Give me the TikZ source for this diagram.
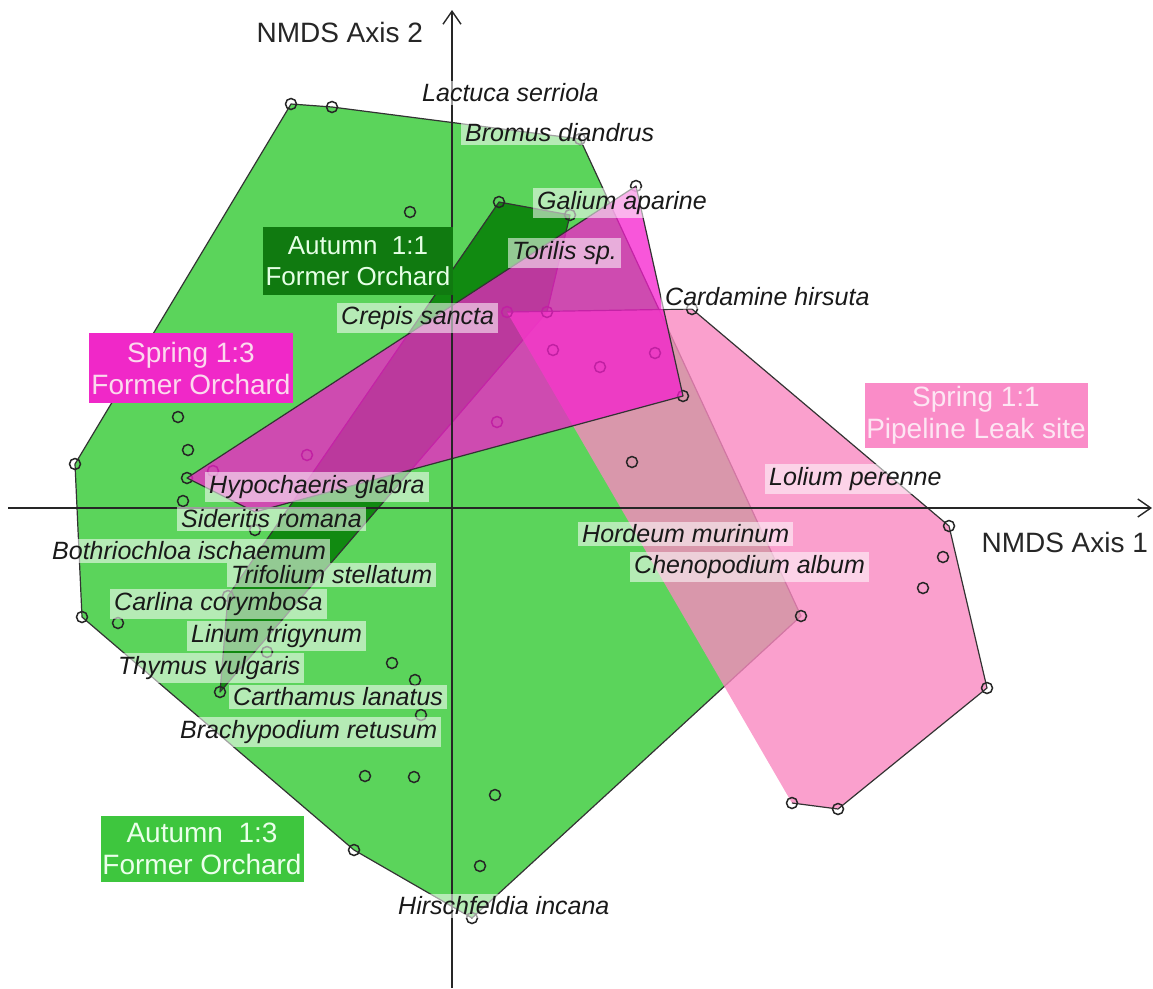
\documentclass[tikz,border=0pt]{standalone}
\usepackage{fontspec}
\setmainfont{Liberation Sans}
\usetikzlibrary{arrows.meta}
\definecolor{autumnthree}{RGB}{91,212,91}
\definecolor{autumnone}{RGB}{10,130,10}
\definecolor{springone}{RGB}{249,136,192}
\definecolor{springthree}{RGB}{245,30,205}
\definecolor{boxautone}{RGB}{16,122,16}
\definecolor{boxautthree}{RGB}{62,198,62}
\definecolor{boxsprone}{RGB}{250,140,200}
\definecolor{boxsprthree}{RGB}{240,40,200}

\begin{document}
\begin{tikzpicture}[x=1pt,y=-1pt,
  hull/.style={draw=black!80,line width=1.2pt,line join=round},
  pt/.style={circle,draw=black!85,line width=1.5pt,minimum size=11pt,inner sep=0pt},
  lab/.style={anchor=west,fill=white,fill opacity=0.55,text opacity=1,text=black!90,
    inner xsep=4pt,inner ysep=3pt,font=\fontsize{25}{28}\selectfont\itshape},
  grp/.style={fill=#1,inner sep=0pt,align=center,font=\fontsize{28}{32}\selectfont},
  axis/.style={line width=1.4pt,draw=black!85,-{Straight Barb[length=13pt,width=18pt]}}]
\useasboundingbox (0,0) rectangle (1153,988);

% hull corners
\foreach \n/\x/\y in {a1/291/104,a2/332/107,a3/580/139,a4/801/616,a5/472/918,
    a6/354/850,a7/82/617,a8/75/464,
    b1/499/202,b2/570/215,b3/547/312,b4/220/692,b5/228/596,
    c1/507/312,c2/692/309,c3/949/526,c4/987/688,c5/838/809,c6/792/803,
    d1/187/478,d2/636/186,d3/683/396,d4/255/512}
  \coordinate (\n) at (\x,\y);

% Autumn 1:3
\fill[autumnthree] (a1)--(a2)--(a3)--(a4)--(a5)--(a6)--(a7)--(a8)--cycle;
\draw[hull] (a1)--(a2)--(a3)--(a4)--(a5)--(a6)--(a7)--(a8)--cycle;
% Autumn 1:1
\filldraw[hull,fill=autumnone,fill opacity=0.9] (b1)--(b2)--(b3)--(b4)--(b5)--cycle;
% Spring 1:1
\fill[springone,fill opacity=0.8] (c1)--(c2)--(c3)--(c4)--(c5)--(c6)--cycle;
\draw[hull] (c1)--(c2)--(c3)--(c4)--(c5)--(c6);

% sample points
\foreach \n in {a1,a2,a3,a4,a5,a6,a7,a8,b1,b2,b3,b4,b5,c2,c3,c4,c5,c6,c1,d1,d2,d3}
  \node[pt] (o\n) at (\n) {};
\foreach \x/\y [count=\i] in {410/212,178/417,188/450,183/501,118/623,392/663,
    415/680,421/715,365/776,414/777,495/795,480/866,255/530,267/652,213/471,
    307/455,553/350,600/367,655/353,497/422,943/557,923/588,632/462}
  \node[pt] (q\i) at (\x,\y) {};

% Spring 1:3
\filldraw[hull,fill=springthree,fill opacity=0.75] (d1)--(d2)--(d3)--(d4)--cycle;

% axes
\coordinate (xs) at (8,508);
\coordinate (xe) at (1152,508);
\coordinate (ys) at (452,988);
\coordinate (ye) at (452,10);
\draw[axis] (xs) -- (xe);
\draw[axis] (ys) -- (ye);
\node[anchor=west,font=\fontsize{28}{32}\selectfont,text=black!85] (axtwo) at (253,32) {NMDS Axis 2};
\node[anchor=west,font=\fontsize{28}{32}\selectfont,text=black!85] (axone) at (978,542) {NMDS Axis 1};

% species
\node[lab] (lactuca) at (418,93) {Lactuca serriola};
\node[lab] (bromus) at (461,133) {Bromus diandrus};
\node[lab] (galium) at (533,203) {Galium aparine};
\node[lab] (torilis) at (508,253) {Torilis sp.};
\node[lab] (cardamine) at (661,297) {Cardamine hirsuta};
\node[lab] (crepis) at (337,318) {Crepis sancta};
\node[lab] (hypochaeris) at (205,487) {Hypochaeris glabra};
\node[lab] (sideritis) at (177,519) {Sideritis romana};
\node[lab] (bothriochloa) at (48,551) {Bothriochloa ischaemum};
\node[lab] (trifolium) at (227,575) {Trifolium stellatum};
\node[lab] (carlina) at (110,604) {Carlina corymbosa};
\node[lab] (linum) at (187,636) {Linum trigynum};
\node[lab] (thymus) at (114,668) {Thymus vulgaris};
\node[lab] (carthamus) at (229,697) {Carthamus lanatus};
\node[lab] (brachypodium) at (176,732) {Brachypodium retusum};
\node[lab] (hirschfeldia) at (394,906) {Hirschfeldia incana};
\node[lab] (lolium) at (765,479) {Lolium perenne};
\node[lab] (hordeum) at (578,534) {Hordeum murinum};
\node[lab] (chenopodium) at (630,567) {Chenopodium album};

% groups
\node[grp=boxautone,minimum width=190pt,minimum height=68pt,text=green!10,
  font=\fontsize{26}{31}\selectfont] (autone) at (358,261) {Autumn\ \ 1:1\\Former Orchard};
\node[grp=boxsprthree,minimum width=204pt,minimum height=70pt,text=magenta!15] (sprthree) at (191,368) {Spring 1:3\\Former Orchard};
\node[grp=boxsprone,minimum width=223pt,minimum height=65pt,text=white!90!magenta] (sprone) at (976,415) {Spring 1:1\\Pipeline Leak site};
\node[grp=boxautthree,minimum width=203pt,minimum height=66pt,text=green!8] (autthree) at (202,849) {Autumn\ \ 1:3\\Former Orchard};
\end{tikzpicture}
\end{document}
